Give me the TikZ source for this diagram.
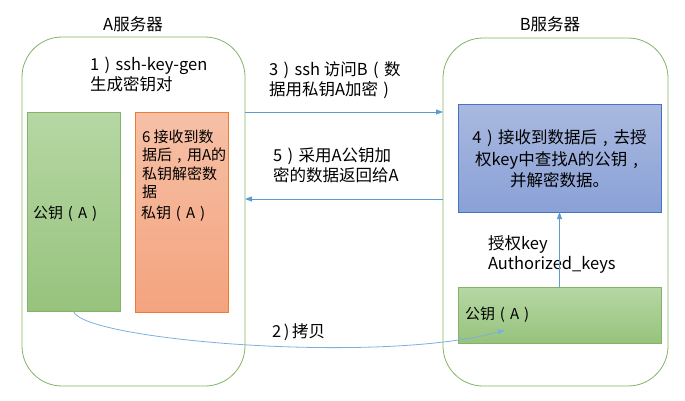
\documentclass[tikz,border=0pt]{standalone}
\usepackage{fontspec}
\setmainfont{Noto Sans CJK SC}
\usetikzlibrary{arrows.meta,calc}
\newcommand\lpr{\makebox[1em][c]{(}}
\newcommand\rpr{\makebox[1em][c]{)}}
\newcommand\cma{\makebox[1em][c]{,}}
\definecolor{srvgreen}{HTML}{82B366}
\definecolor{gtop}{HTML}{B6D7A4}
\definecolor{gbot}{HTML}{97C37D}
\definecolor{otop}{HTML}{F6C0A6}
\definecolor{obot}{HTML}{F4A37E}
\definecolor{oline}{HTML}{ED7D31}
\definecolor{btop}{HTML}{A9B9DF}
\definecolor{bbot}{HTML}{8AA1D7}
\definecolor{bline}{HTML}{4472C4}
\definecolor{arr}{HTML}{5B9BD5}
\tikzset{
  server/.style={draw=srvgreen, line width=0.8pt, rounded corners=40pt, inner sep=0pt, outer sep=0pt, anchor=north west},
  greenbox/.style={draw=srvgreen, line width=0.8pt, top color=gtop, bottom color=gbot, inner sep=0pt, outer sep=0pt, anchor=north west},
  orangebox/.style={draw=oline, line width=0.8pt, top color=otop, bottom color=obot, inner sep=0pt, outer sep=0pt, anchor=north west},
  bluebox/.style={draw=bline, line width=0.8pt, top color=btop, bottom color=bbot, inner sep=0pt, outer sep=0pt, anchor=north west},
  lbl/.style={inner sep=0pt, outer sep=0pt, align=left, anchor=west, font=\fontsize{16.5}{20}\selectfont},
  boxlbl/.style={inner sep=0pt, outer sep=0pt, align=left, anchor=west, font=\fontsize{15}{18}\selectfont},
  conn/.style={draw=arr, line width=0.8pt, -{Triangle[length=7pt,width=5pt]}},
}
\begin{document}
\begin{tikzpicture}[x=1pt,y=-1pt]
\useasboundingbox (0,0) rectangle (685,400);
% servers
\node[server, minimum width=223pt, minimum height=349pt] (A) at (22,37) {};
\node[server, minimum width=225pt, minimum height=348pt] (B) at (443,38) {};
\node[inner sep=0pt, font=\fontsize{16.5}{20}\selectfont] (Atitle) at (133,24) {A服务器};
\node[inner sep=0pt, font=\fontsize{16.5}{20}\selectfont] (Btitle) at (550,24) {B服务器};
% boxes in A
\node[greenbox, minimum width=93pt, minimum height=199pt] (Ag) at (27,112) {};
\node[orangebox, minimum width=93pt, minimum height=200pt] (Ao) at (135,112) {};
% boxes in B
\node[bluebox, minimum width=203pt, minimum height=108pt] (Bb) at (458,104) {};
\node[greenbox, minimum width=203pt, minimum height=56pt] (Bg) at (458,287) {};
% texts
\node[lbl, anchor=north west] (t1) at (90,57) {1\rpr ssh-key-gen\\生成密钥对};
\node[lbl, anchor=north west] (t3) at (269,62) {3\rpr ssh 访问B\lpr 数\\据用私钥A加密\rpr};
\node[lbl, anchor=north west] (t5) at (273,148) {5\rpr 采用A公钥加\\密的数据返回给A};
\node[boxlbl, anchor=north west, font=\fontsize{15}{18.2}\selectfont] (t6) at (142,130) {6 接收到数\\据后\cma 用A的\\私钥解密数\\据};
\node[boxlbl] (priv) at (141,214) {私钥\lpr A\rpr};
\node[boxlbl] (pubA) at (33,214) {公钥\lpr A\rpr};
\node[inner sep=0pt, align=center, font=\fontsize{16.5}{21.5}\selectfont] (t4) at (559.5,159) {4\rpr 接收到数据后\cma 去授\\权key中查找A的公钥\cma\\并解密数据。};
\node[lbl, anchor=north west] (tk) at (488,236) {授权key\\Authorized\_keys};
\node[boxlbl] (pubB) at (465,315) {公钥\lpr A\rpr};
\node[lbl] (t2) at (272,332) {2\,)\,拷贝};
% connectors
\coordinate (c3s) at (A.east |- Ag.north);
\coordinate (c3e) at (B.west |- Ag.north);
\draw[conn] (c3s) -- (c3e);
\coordinate (c5s) at (443,199);
\coordinate (c5e) at (A.east |- c5s);
\draw[conn] (c5s) -- (c5e);
\draw[conn] (Bg.north) -- (Bb.south);
\coordinate (copyend) at (505,330);
\draw[conn, draw=arr!80] (Ag.south) .. controls (80,340) and (380,365) .. (copyend);
\end{tikzpicture}
\end{document}
